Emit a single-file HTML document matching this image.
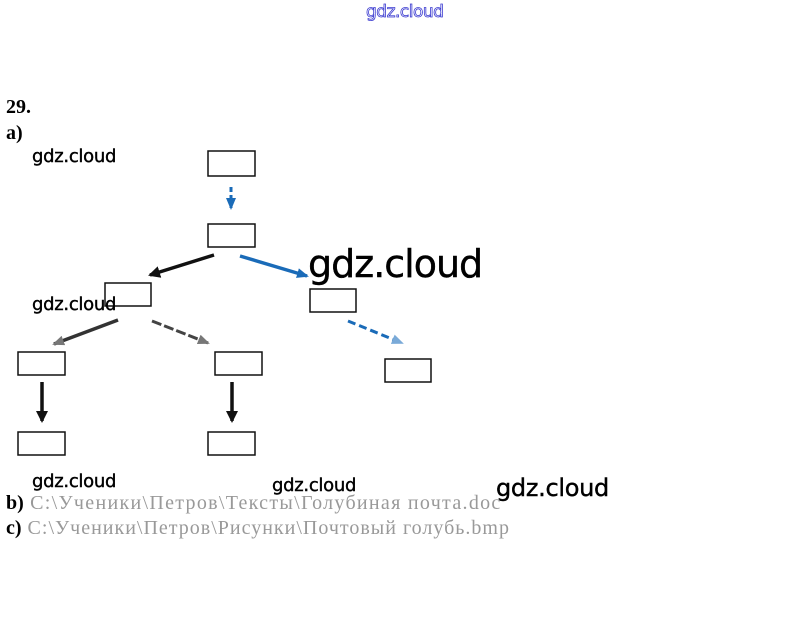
<!DOCTYPE html>
<html><head><meta charset="utf-8"><style>
body{margin:0;width:809px;height:632px;background:#fff;overflow:hidden;position:relative;font-family:"Liberation Sans",sans-serif}
.t{position:absolute;white-space:nowrap}
.w{font-family:"DejaVu Sans","Liberation Sans",sans-serif;color:#000;letter-spacing:-0.3px;-webkit-text-stroke:0.4px #000}
.s{font-family:"Liberation Serif",serif;color:#000}
</style></head><body>
<div class="t" style="font-family:'DejaVu Sans',sans-serif;left:366px;top:2px;font-size:17px;color:#fff;-webkit-text-stroke:0.8px #3a3ad0;letter-spacing:-0.5px">gdz.cloud</div>
<div class="t s" style="left:6px;top:96px;font-size:20px;font-weight:bold">29.</div>
<div class="t s" style="left:6px;top:122px;font-size:20px;font-weight:bold">a)</div>
<svg width="809" height="632" style="position:absolute;left:0;top:0">
<defs>
<marker id="ab" markerWidth="12" markerHeight="10" refX="10" refY="5" orient="auto" markerUnits="userSpaceOnUse"><path d="M0,0 L12,5 L0,10z" fill="#1a6bb8"/></marker>
<marker id="ag" markerWidth="12" markerHeight="10" refX="10" refY="5" orient="auto" markerUnits="userSpaceOnUse"><path d="M0,0 L12,5 L0,10z" fill="#777"/></marker>
<marker id="al" markerWidth="12" markerHeight="10" refX="10" refY="5" orient="auto" markerUnits="userSpaceOnUse"><path d="M0,0 L12,5 L0,10z" fill="#7aaad8"/></marker>
<marker id="kv" markerWidth="12" markerHeight="12" refX="10" refY="6" orient="auto" markerUnits="userSpaceOnUse"><path d="M0,0 L12,6 L0,12z" fill="#111"/></marker>
</defs>
<g fill="none" stroke="#111" stroke-width="1.5">
<rect x="208" y="151" width="47" height="25"/>
<rect x="208" y="224" width="47" height="23"/>
<rect x="105" y="283" width="46" height="23"/>
<rect x="310" y="289" width="46" height="23"/>
<rect x="18" y="352" width="47" height="23"/>
<rect x="215" y="352" width="47" height="23"/>
<rect x="385" y="359" width="46" height="23"/>
<rect x="18" y="432" width="47" height="23"/>
<rect x="208" y="432" width="47" height="23"/>
</g>
<line x1="231" y1="187" x2="231" y2="208" stroke="#1a6bb8" stroke-width="3" stroke-dasharray="5,3" marker-end="url(#ab)"/>
<line x1="214" y1="255" x2="150" y2="275" stroke="#111" stroke-width="3.5" marker-end="url(#kv)"/>
<line x1="240" y1="256" x2="307" y2="276" stroke="#1a6bb8" stroke-width="3.5" marker-end="url(#ab)"/>
<line x1="118" y1="320" x2="54" y2="344" stroke="#333" stroke-width="3.5" marker-end="url(#ag)"/>
<line x1="152" y1="321" x2="208" y2="343" stroke="#444" stroke-width="3" stroke-dasharray="10,3" marker-end="url(#ag)"/>
<line x1="348" y1="321" x2="402" y2="343" stroke="#1a6bb8" stroke-width="3" stroke-dasharray="8,4" marker-end="url(#al)"/>
<line x1="42" y1="382" x2="42" y2="421" stroke="#111" stroke-width="3.5" marker-end="url(#kv)"/>
<line x1="232" y1="382" x2="232" y2="421" stroke="#111" stroke-width="3.5" marker-end="url(#kv)"/>
</svg>
<div class="t w" style="left:32px;top:146px;font-size:18px">gdz.cloud</div>
<div class="t w" style="left:32px;top:294px;font-size:18px">gdz.cloud</div>
<div class="t w" style="left:308px;top:242px;font-size:38px;letter-spacing:-1px">gdz.cloud</div>
<div class="t w" style="left:32px;top:471px;font-size:18px">gdz.cloud</div>
<div class="t w" style="left:272px;top:475px;font-size:18px">gdz.cloud</div>
<div class="t w" style="left:496px;top:474px;font-size:24px">gdz.cloud</div>
<div class="t s" style="left:6px;top:492px;font-size:20px;color:#999;letter-spacing:1.3px"><b style="color:#000;letter-spacing:0">b)</b> C:\Ученики\Петров\Тексты\Голубиная почта.doc</div>
<div class="t s" style="left:6px;top:517px;font-size:20px;color:#999;letter-spacing:1px"><b style="color:#000;letter-spacing:0">c)</b> C:\Ученики\Петров\Рисунки\Почтовый голубь.bmp</div>
</body></html>
